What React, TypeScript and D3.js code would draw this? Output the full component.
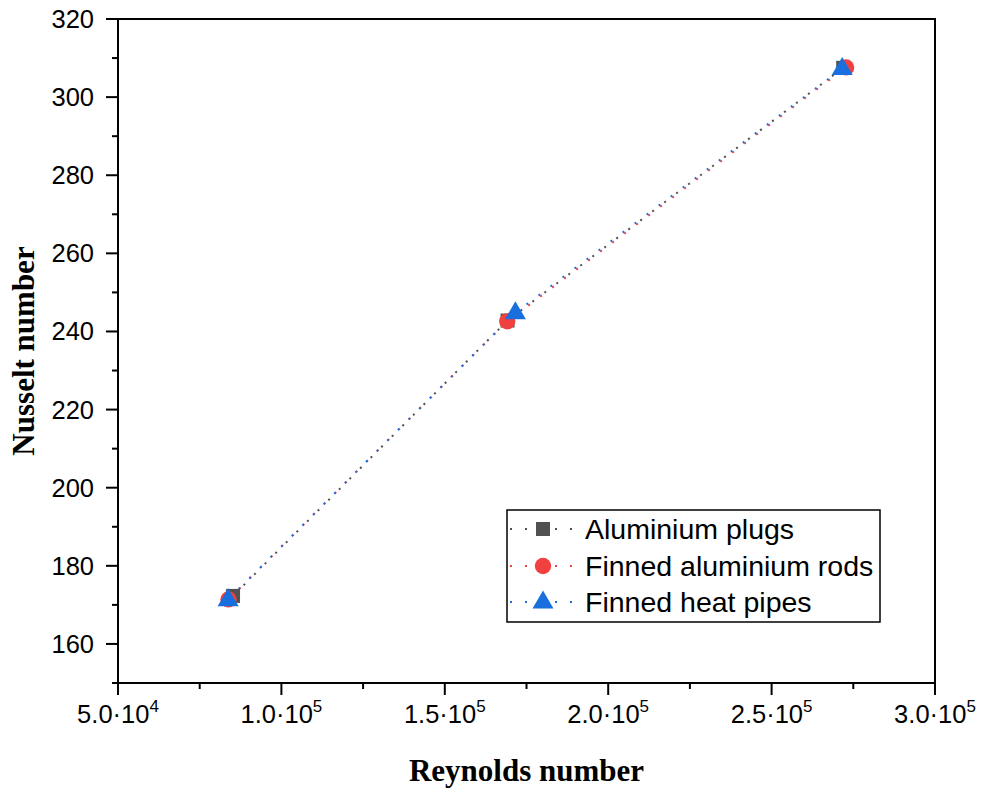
import React from "react";
import * as d3 from "d3";

const seriesNames = ["Aluminium plugs", "Finned aluminium rods", "Finned heat pipes"];
const seriesColors = ["#515151", "#F14040", "#1A6FDF"];
const seriesShapes = ["square", "circle", "triangle"];
const plugsRe = [85200, 169200, 271900];
const plugsNu = [172.3, 242.8, 307.5];
const rodsRe = [83800, 169100, 272800];
const rodsNu = [171.4, 242.6, 307.6];
const pipesRe = [83700, 171600, 271600];
const pipesNu = [171.3, 244.8, 307.3];
const xTickValues = [50000, 100000, 150000, 200000, 250000, 300000];
const xTickMant = ["5.0", "1.0", "1.5", "2.0", "2.5", "3.0"];
const xTickExp = ["4", "5", "5", "5", "5", "5"];
const yTickValues = [160, 180, 200, 220, 240, 260, 280, 300, 320];
const xTitle = "Reynolds number";
const yTitle = "Nusselt number";

const W = 984, H = 791;
const L = 118, R = 935, T = 19, B = 683;

export default function App() {
  const x = d3.scaleLinear().domain([50000, 300000]).range([L, R]);
  const y = d3.scaleLinear().domain([150, 320]).range([B, T]);
  const xs = [plugsRe, rodsRe, pipesRe];
  const ys = [plugsNu, rodsNu, pipesNu];
  const line = d3.line<number[]>().x(d => x(d[0])).y(d => y(d[1]));
  const xMinor = d3.range(75000, 300000, 50000);
  const yMinor = d3.range(150, 320, 20);
  const sym = (shape: string) => {
    if (shape === "square") return d3.symbol().type(d3.symbolSquare).size(196)();
    if (shape === "circle") return d3.symbol().type(d3.symbolCircle).size(210)();
    return "M0,-11.5L10.5,6.5L-10.5,6.5Z";
  };
  const legendRows = [529, 566, 602];
  return (
    <svg width={W} height={H} style={{ position: "absolute", left: 0, top: 0, background: "#fff" }}>
      <rect x={0} y={0} width={W} height={H} fill="#fff" />
      {xs.map((xv, i) => (
        <path key={"l" + i} d={line(xv.map((v, j) => [v, ys[i][j]])) || ""} fill="none"
          stroke={seriesColors[i]} strokeWidth={2} strokeDasharray="2 13" />
      ))}
      {xs.map((xv, i) => xv.map((v, j) => (
        <path key={"m" + i + "-" + j} d={sym(seriesShapes[i]) || ""} fill={seriesColors[i]}
          transform={`translate(${x(v)},${y(ys[i][j])})`} />
      )))}
      <rect x={L} y={T} width={R - L} height={B - T} fill="none" stroke="#000" strokeWidth={2} />
      {xTickValues.map((v, i) => (
        <g key={"xt" + i}>
          <line x1={x(v)} x2={x(v)} y1={B} y2={B + 12} stroke="#000" strokeWidth={2} />
          <text x={x(v)} y={723} textAnchor="middle" fontFamily="Liberation Sans, Arial, sans-serif" fontSize={25.5}>
            {xTickMant[i]}·10<tspan fontSize={17} dy={-11}>{xTickExp[i]}</tspan>
          </text>
        </g>
      ))}
      {xMinor.map((v, i) => (
        <line key={"xm" + i} x1={x(v)} x2={x(v)} y1={B} y2={B + 6} stroke="#000" strokeWidth={2} />
      ))}
      {yTickValues.map((v, i) => (
        <g key={"yt" + i}>
          <line x1={L - 12} x2={L} y1={y(v)} y2={y(v)} stroke="#000" strokeWidth={2} />
          <text x={94} y={y(v)} dy="0.35em" textAnchor="end" fontFamily="Liberation Sans, Arial, sans-serif" fontSize={25.5}>{v}</text>
        </g>
      ))}
      {yMinor.map((v, i) => (
        <line key={"ym" + i} x1={L - 6} x2={L} y1={y(v)} y2={y(v)} stroke="#000" strokeWidth={2} />
      ))}
      <text x={(L + R) / 2} y={781} textAnchor="middle" fontFamily="Liberation Serif, Times New Roman, serif"
        fontWeight="bold" fontSize={31}>{xTitle}</text>
      <text transform={`translate(34,${(T + B) / 2}) rotate(-90)`} textAnchor="middle"
        fontFamily="Liberation Serif, Times New Roman, serif" fontWeight="bold" fontSize={31}>{yTitle}</text>
      <rect x={507} y={510} width={373} height={112} fill="#fff" stroke="#000" strokeWidth={1.5} />
      {seriesNames.map((n, i) => (
        <g key={"lg" + i}>
          <line x1={510} x2={574} y1={legendRows[i]} y2={legendRows[i]} stroke={seriesColors[i]}
            strokeWidth={2} strokeDasharray="2 13" />
          <path d={sym(seriesShapes[i]) || ""} fill={seriesColors[i]} transform={`translate(543,${legendRows[i]})`} />
          <text x={585} y={legendRows[i]} dy="0.35em" fontFamily="Liberation Sans, Arial, sans-serif" fontSize={28.5}>{n}</text>
        </g>
      ))}
    </svg>
  );
}
